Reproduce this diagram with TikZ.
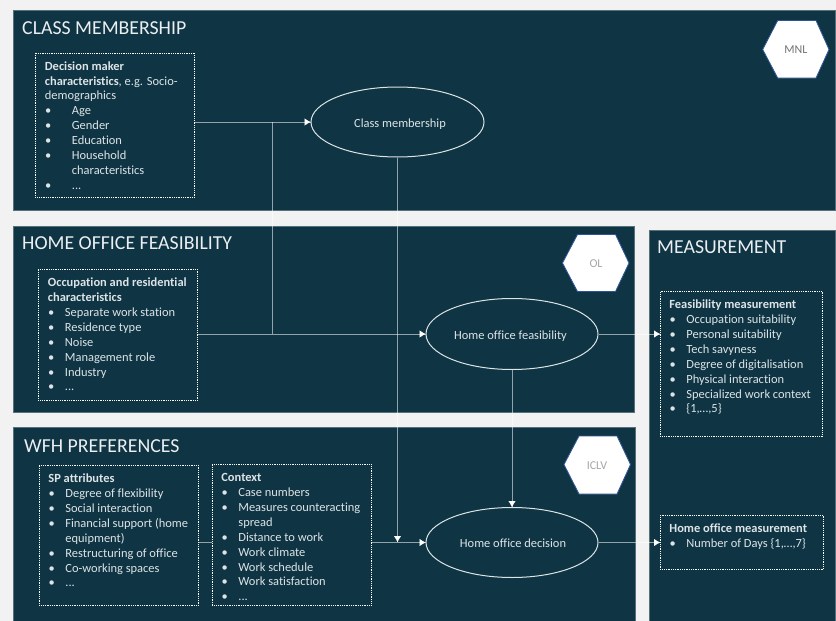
\documentclass[tikz,border=0pt]{standalone}
\usepackage{fontspec}
\setmainfont{Carlito}[Ligatures=NoCommon]
\usetikzlibrary{arrows.meta,calc,shapes.geometric}
\definecolor{panel}{HTML}{0F3443}
\definecolor{pageg}{HTML}{F2F2F2}
\definecolor{soft}{HTML}{DDE4E7}
\definecolor{hexedge}{HTML}{2F5597}
\newlength{\bulind}
\newcommand{\bl}[1]{\par\noindent\hangindent=\bulind\hangafter=1\makebox[\bulind][l]{\hspace{.3pt}•}#1}
\newcommand{\boxtxt}[4]{\setlength{\bulind}{#3}\parbox[c][#2][t]{#1}{\raggedright\fontsize{12.45}{14.9}\selectfont\color{soft}\vspace*{.8pt}\strut\ignorespaces#4}}
\newcommand{\ovtxt}[2]{\smash{\raisebox{-5pt}{\hspace*{#1}#2}}}
\tikzset{
  x=1pt,y=-1pt,
  panelbox/.style={fill=panel,draw=panel!70!white,line width=.5pt},
  ptitle/.style={anchor=west,inner sep=0pt,text=soft!60!white,font=\fontsize{19.8}{21}\selectfont},
  dotbox/.style={draw=white,line width=.8pt,dash pattern=on .9pt off .9pt,inner sep=0pt,anchor=north west},
  oval/.style={ellipse,draw=soft,line width=1pt,inner sep=0pt,text=soft,font=\fontsize{12.45}{14}\selectfont},
  flow/.style={draw=white,draw opacity=.55,line width=1pt},
  headtip/.style={draw=white,line width=.1pt,-{Latex[length=6pt,width=7pt,fill=white]}},
  hexa/.style={fill=white,draw=hexedge,line width=.8pt},
  hextext/.style={inner sep=0pt,text=black!#1,font=\fontsize{12}{14}\selectfont},
  hextext/.default=40
}
\begin{document}
\begin{tikzpicture}
\useasboundingbox (0,0) rectangle (836,621);
\fill[pageg] (0,0) rectangle (836,621);
% panels
\filldraw[panelbox] (13,10.5) rectangle (835,210.5);
\filldraw[panelbox] (13,226) rectangle (634.5,412.5);
\filldraw[panelbox] (13.5,427) rectangle (635,622);
\filldraw[panelbox] (649,230) rectangle (835,622);
\node[ptitle] (t1) at (22,28) {CLASS MEMBERSHIP};
\node[ptitle] (t2) at (22,243) {HOME OFFICE FEASIBILITY};
\node[ptitle] (t3) at (24,446) {WFH PREFERENCES};
\node[ptitle] (t4) at (657,247) {MEASUREMENT};
% hexagons
\filldraw[hexa] (762.7,49.5)--(777.7,20.5)--(816,20.5)--(829,49.5)--(816,78)--(777.7,78)--cycle;
\node[hextext=55] (mnl) at (796,50) {MNL};
\filldraw[hexa] (562.5,263)--(577.5,234.5)--(615.5,234.5)--(629,263)--(615.5,291.5)--(577.5,291.5)--cycle;
\node[hextext=35] (ol) at (596,263.5) {OL};
\filldraw[hexa] (564,464.5)--(579,436)--(617,436)--(630.5,464.5)--(617,494)--(579,494)--cycle;
\node[hextext=35] (iclv) at (597,465.5) {ICLV};
% text boxes
\node[dotbox,inner xsep=9.5pt,inner ysep=6pt] (dm) at (35,52.5) {\boxtxt{140pt}{132.5pt}{27pt}{\textbf{Decision maker characteristics}, e.g. Socio-\newline demographics
\bl{Age}\bl{Gender}\bl{Education}\bl{Household\newline characteristics}\bl{...}}};
\node[dotbox,inner xsep=9.5pt,inner ysep=6pt] (occ) at (38,269) {\boxtxt{140pt}{119pt}{17pt}{\textbf{Occupation and residential characteristics}
\bl{Separate work station}\bl{Residence type}\bl{Noise}\bl{Management role}\bl{Industry}\bl{...}}};
\node[dotbox,inner xsep=9pt,inner ysep=6pt] (sp) at (39,465) {\boxtxt{141pt}{128pt}{17pt}{\textbf{SP attributes}
\bl{Degree of flexibility}\bl{Social interaction}\bl{Financial support (home\newline equipment)}\bl{Restructuring of office}\bl{Co-working spaces}\bl{...}}};
\node[dotbox,inner xsep=9pt,inner ysep=6pt] (ctx) at (212,464) {\boxtxt{140.5pt}{129pt}{17pt}{\textbf{Context}
\bl{Case numbers}\bl{Measures counteracting\newline spread}\bl{Distance to work}\bl{Work climate}\bl{Work schedule}\bl{Work satisfaction}\bl{...}}};
\node[dotbox,inner xsep=9pt,inner ysep=6pt] (fm) at (660,291) {\boxtxt{144pt}{133pt}{17pt}{\textbf{Feasibility measurement}
\bl{Occupation suitability}\bl{Personal suitability}\bl{Tech savyness}\bl{Degree of digitalisation}\bl{Physical interaction}\bl{Specialized work context}\bl{\{1,…,5\}}}};
\node[dotbox,inner xsep=9pt,inner ysep=6pt] (hm) at (660,515) {\boxtxt{145pt}{42pt}{17pt}{\textbf{Home office measurement}
\bl{Number of Days \{1,…,7\}}}};
% ovals
\node[oval,minimum width=173pt,minimum height=70pt] (cm) at (397.5,122) {\ovtxt{5pt}{Class membership}};
\node[oval,minimum width=172pt,minimum height=71pt] (hof) at (512,334) {\ovtxt{-3pt}{Home office feasibility}};
\node[oval,minimum width=172pt,minimum height=70pt] (hod) at (512,542.5) {\ovtxt{2pt}{Home office decision}};
% connectors
\coordinate (jd) at (272,122);
\coordinate (jo) at (272,334);
\coordinate (dropend) at ($(cm.south)+(0,384.5)$);
\draw[flow] (dm.east |- cm.west) -- (cm.west);
\draw[flow] (jd) -- (jo);
\draw[flow] (occ.east |- hof.west) -- (hof.west);
\draw[flow] (cm.south) -- (dropend);
\draw[flow] (ctx.east |- hod.west) -- (hod.west);
\draw[flow] (sp.east |- hod.west) -- (ctx.west |- hod.west);
\draw[flow] (hof.south) -- (hod.north);
\draw[flow] (hof.east) -- (hof.east -| fm.west);
\draw[flow] (hod.east) -- (hod.east -| hm.west);
\draw[headtip] ($(cm.west)+(-6,0)$) -- (cm.west);
\draw[headtip] ($(hof.west)+(-6,0)$) -- (hof.west);
\draw[headtip] ($(hod.west)+(-6,0)$) -- (hod.west);
\draw[headtip] ($(dropend)+(0,-6)$) -- (dropend);
\draw[headtip] ($(hod.north)+(0,-6)$) -- (hod.north);
\draw[headtip] ($(hof.east -| fm.west)+(-6,0)$) -- (hof.east -| fm.west);
\draw[headtip] ($(hod.east -| hm.west)+(-6,0)$) -- (hod.east -| hm.west);
\end{tikzpicture}
\end{document}
